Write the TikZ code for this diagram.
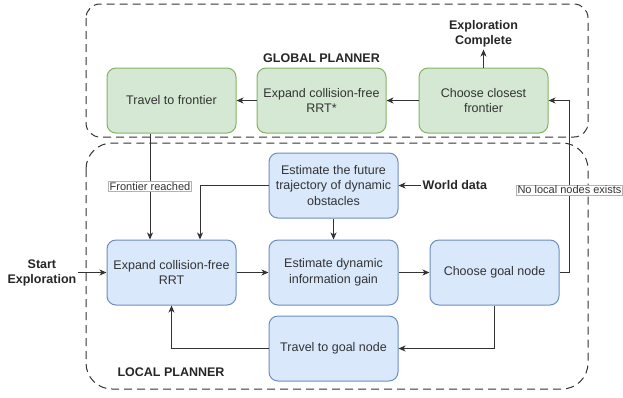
\documentclass[tikz,border=0pt]{standalone}
\usepackage{fontspec}
\setmainfont{Liberation Sans}
\usetikzlibrary{positioning,calc,arrows.meta}

\definecolor{gfill}{HTML}{D5E8D4}
\definecolor{gline}{HTML}{82B366}
\definecolor{bfill}{HTML}{DAE8FC}
\definecolor{bline}{HTML}{6C8EBF}

\begin{document}
\begin{tikzpicture}[x=1pt,y=1pt]
	\tikzstyle{every node}=[font=\fontsize{12.5}{15.5}\selectfont, text=black!80]
	\tikzstyle{gbox}=[rectangle, rounded corners=9pt, draw=gline, fill=gfill, line width=1pt, minimum width=129pt, minimum height=65pt, align=center]
	\tikzstyle{bbox}=[rectangle, rounded corners=9pt, draw=bline, fill=bfill, line width=1pt, minimum width=129pt, minimum height=65pt, align=center]
	\tikzstyle{title}=[font=\bfseries\fontsize{12.5}{15}\selectfont, align=center, text=black!85]
	\tikzstyle{lbl}=[fill=white, draw=black!30, line width=0.5pt, inner sep=1pt, font=\fontsize{11}{13}\selectfont]
	\tikzstyle{flow}=[draw=black!80, line width=1pt, -{Stealth[length=7pt,width=6pt,inset=2pt]}]
	\tikzstyle{region}=[draw=black!80, dash pattern=on 8pt off 5pt, line width=1pt]

	\useasboundingbox (0,0) rectangle (623,-397);

	\draw[region, rounded corners=14pt] (86,-4) rectangle (588,-137);
	\draw[region, rounded corners=26pt] (86,-143) rectangle (588,-389);

	\node[gbox] (tf) at (171.5,-100.5) {Travel to frontier};
	\node[gbox, right=20pt of tf] (rrts) {Expand collision-free\\RRT*};
	\node[gbox, right=32pt of rrts] (ccf) {Choose closest\\frontier};
	\node[bbox, below=106pt of tf] (rrt) {Expand collision-free\\RRT};
	\node[bbox, right=32pt of rrt] (edig) {Estimate dynamic\\information gain};
	\node[bbox, right=31pt of edig] (cgn) {Choose goal node};
	\node[bbox, above=21pt of edig] (eft) {Estimate the future\\trajectory of dynamic\\obstacles};
	\node[bbox, below=10pt of edig] (tgn) {Travel to goal node};

	\node[title, above=18pt of ccf, inner sep=2pt] (done) {Exploration\\Complete};
	\node[title, above=2.5pt of rrts, inner sep=2pt] (gp) {GLOBAL PLANNER};
	\node[title] (lp) at (171,-372) {LOCAL PLANNER};
	\node[title, left=29pt of rrt, inner sep=1pt] (start) {Start\\Exploration};
	\node[title, right=22pt of eft, inner sep=2pt] (wd) {World data};

	\draw[flow] (ccf) -- (rrts);
	\draw[flow] (rrts) -- (tf);
	\draw[flow] (ccf) -- (done);
	\draw[flow] ([xshift=-21.5pt]tf.south) -- node[lbl, pos=0.5] {Frontier reached} ([xshift=-21.5pt]rrt.north);
	\draw[flow] (eft.west) -| ([xshift=28.5pt]rrt.north);
	\draw[flow] (eft) -- (edig);
	\draw[flow] (wd) -- (eft);
	\draw[flow] (start) -- (rrt);
	\draw[flow] (rrt) -- (edig);
	\draw[flow] (edig) -- (cgn);
	\draw[flow] (cgn.east) -- ++(10pt,0) |- node[lbl, pos=0.24] {No local nodes exists} (ccf.east);
	\draw[flow] (cgn.south) |- (tgn.east);
	\draw[flow] (tgn.west) -| (rrt.south);
\end{tikzpicture}
\end{document}
